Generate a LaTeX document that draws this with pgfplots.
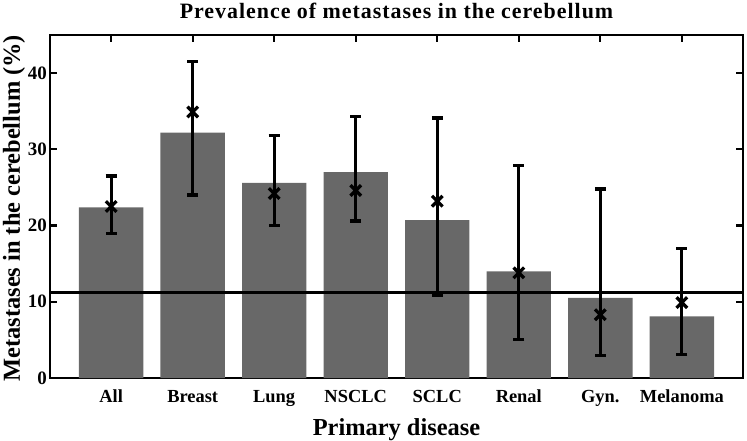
\documentclass[border=0pt]{standalone}
\usepackage{pgfplots}
\pgfplotsset{compat=1.18}
\usepackage{fontspec}
\setmainfont{Liberation Serif}
\newfontfamily\titlefont[LetterSpace=4.5]{Liberation Serif}
\definecolor{bargray}{RGB}{104,104,104}
\begin{document}
\begin{tikzpicture}
\useasboundingbox (-50bp,-63bp) rectangle (697bp,378bp);
\begin{axis}[
 at={(0,0)}, anchor=south west,
 scale only axis, width=693bp, height=343bp,
 xmin=0.25, xmax=8.75, ymin=0, ymax=45,
 xtick={1,...,8}, xticklabels={All,Breast,Lung,NSCLC,SCLC,Renal,Gyn.,Melanoma},
 ytick={0,10,20,30,40},
 tick align=inside, major tick length=7bp,
 axis line style={line width=2.7bp},
 tick style={black, line width=2.2bp},
 /pgf/number format/assume math mode=true,
 xticklabel style={font=\bfseries\fontsize{18.5}{20}\selectfont, anchor=base, yshift=-24bp},
 yticklabel style={font=\bfseries\fontsize{19}{20}\selectfont, anchor=east, inner sep=0pt, xshift=-3bp},
 xlabel={Primary disease},
 ylabel={Metastases in the cerebellum (\%)},
 xlabel style={font=\bfseries\fontsize{24.5}{26}\selectfont, at={(axis description cs:0.5,-0.168)}, anchor=base},
 ylabel style={font=\bfseries\fontsize{24.5}{26}\selectfont, at={(axis description cs:-0.0433,0.495)}, anchor=base},
 title={Prevalence of metastases in the cerebellum},
 title style={font=\titlefont\bfseries\fontsize{22}{24}\selectfont, at={(axis description cs:0.5,1)}, anchor=base, yshift=10.5bp},
]
\addplot[ybar, bar width=0.79, fill=bargray, draw=none] coordinates {
 (1,22.4) (2,32.2) (3,25.6) (4,27.0) (5,20.7) (6,14.0) (7,10.5) (8,8.1)};
\addplot[black, line width=2.7bp] coordinates {(0.25,11.2) (8.75,11.2)};
\addplot[black, only marks, mark=x, mark size=7.5bp, mark options={line width=3.3bp},
 error bars/.cd, y dir=both, y explicit,
 error bar style={line width=3.2bp},
 error mark options={rotate=90, mark size=5.5bp, line width=3.2bp}]
 coordinates {
 (1,22.5) += (0,4.0) -= (0,3.5)
 (2,34.9) += (0,6.6) -= (0,10.9)
 (3,24.2) += (0,7.6) -= (0,4.2)
 (4,24.6) += (0,9.7) -= (0,4.0)
 (5,23.2) += (0,10.9) -= (0,12.4)
 (6,13.8) += (0,14.1) -= (0,8.8)
 (7,8.3) += (0,16.5) -= (0,5.4)
 (8,9.9) += (0,7.1) -= (0,6.8)
 };
\end{axis}
\end{tikzpicture}
\end{document}
